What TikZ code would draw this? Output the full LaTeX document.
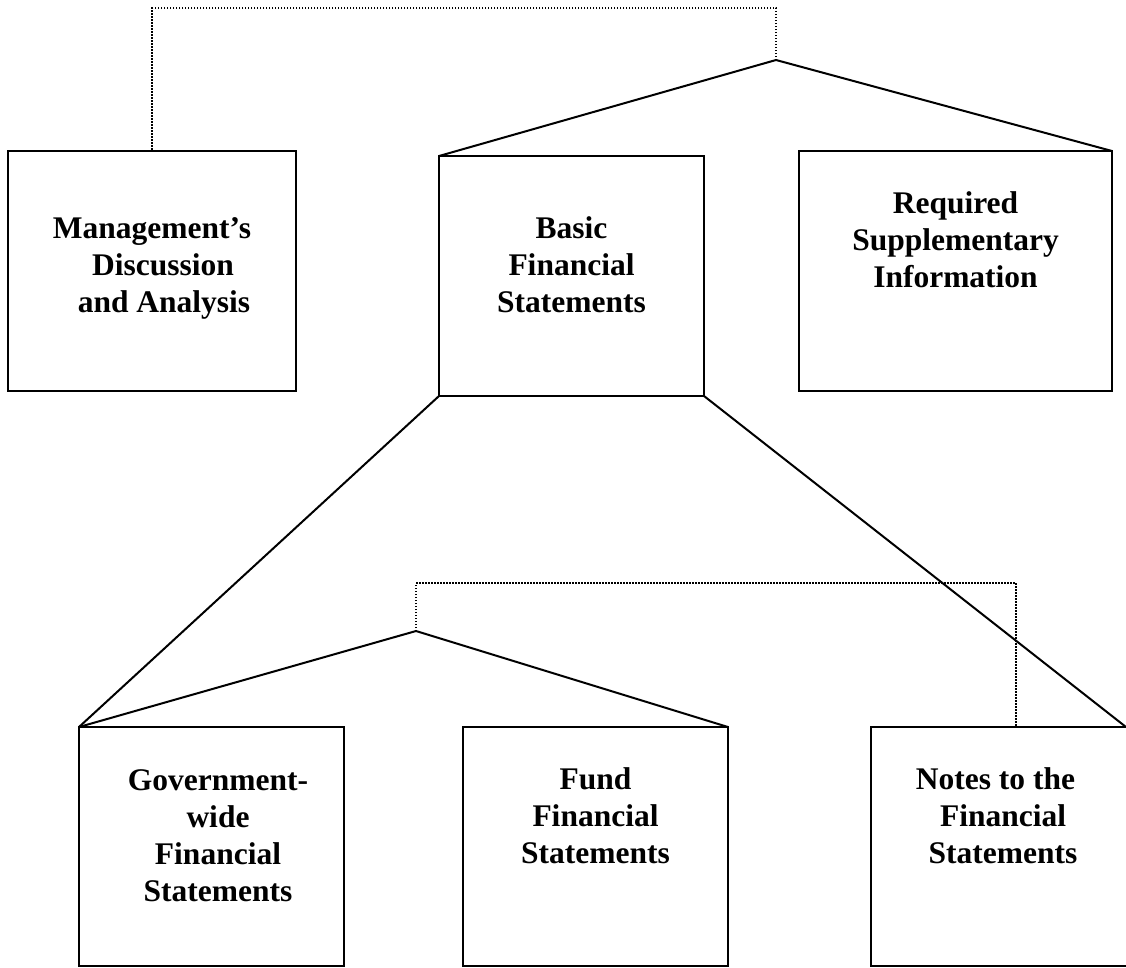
\documentclass[tikz,border=0pt]{standalone}
\usepackage{fontspec}
\setmainfont{Liberation Serif}
\begin{document}
\begin{tikzpicture}[x=1pt,y=-1pt,
  boxst/.style={draw,line width=2.2pt,inner sep=0pt,outer sep=0pt},
  lbl/.style={font=\bfseries\fontsize{31.5}{37}\selectfont,align=center,inner sep=0pt,anchor=base},
  conn/.style={line width=2pt},
  dots/.style={line width=1.6pt,dash pattern=on 1.5pt off 1.5pt}]
\useasboundingbox (0,0) rectangle (1126,967);
\clip (0,0) rectangle (1126,967);
% boxes
\node[boxst,minimum width=288pt,minimum height=240pt] (md) at (152,271) {};
\node[boxst,minimum width=265pt,minimum height=240pt] (basic) at (571.5,276) {};
\node[boxst,minimum width=313pt,minimum height=240pt] (rsi) at (955.5,271) {};
\node[boxst,minimum width=265pt,minimum height=239pt] (gov) at (211.5,846.5) {};
\node[boxst,minimum width=265pt,minimum height=239pt] (fund) at (595.5,846.5) {};
\node[boxst,minimum width=256pt,minimum height=239pt] (notes) at (999,846.5) {};
% labels (anchored at the baseline of the last line)
\node[lbl] (mdt) at (152,312) {Management’s\\\hspace*{22pt}Discussion\\\hspace*{24pt}and Analysis};
\node[lbl] (basict) at (571.5,312) {Basic\\Financial\\Statements};
\node[lbl] (rsit) at (955.5,287) {Required\\Supplementary\\Information};
\node[lbl] (govt) at (218,901) {Government-\\wide\\Financial\\Statements};
\node[lbl] (fundt) at (595.5,863) {Fund\\Financial\\Statements};
\node[lbl] (notest) at (995.5,863) {Notes to the\\\hspace*{15pt}Financial\\\hspace*{15pt}Statements};
% junctions
\coordinate (a1) at (776,60);
\coordinate (a1t) at (776,8);
\coordinate (mdt1) at (152,8);
\coordinate (a2) at (416,631);
\coordinate (a2t) at (416,583);
\coordinate (nt1) at (1016,583);
\coordinate (notesend) at (1126,727);
% connectors
\draw[conn] (basic.north west) -- (a1) -- (rsi.north east);
\draw[dots] (a1) -- (a1t) -- (mdt1) -- (md.north);
\draw[conn] (basic.south west) -- (gov.north west);
\draw[conn] (basic.south east) -- (notesend);
\draw[conn] (gov.north west) -- (a2) -- (fund.north east);
\draw[dots] (a2) -- (a2t) -- (nt1) -- (notes.north -| nt1);
\end{tikzpicture}
\end{document}
